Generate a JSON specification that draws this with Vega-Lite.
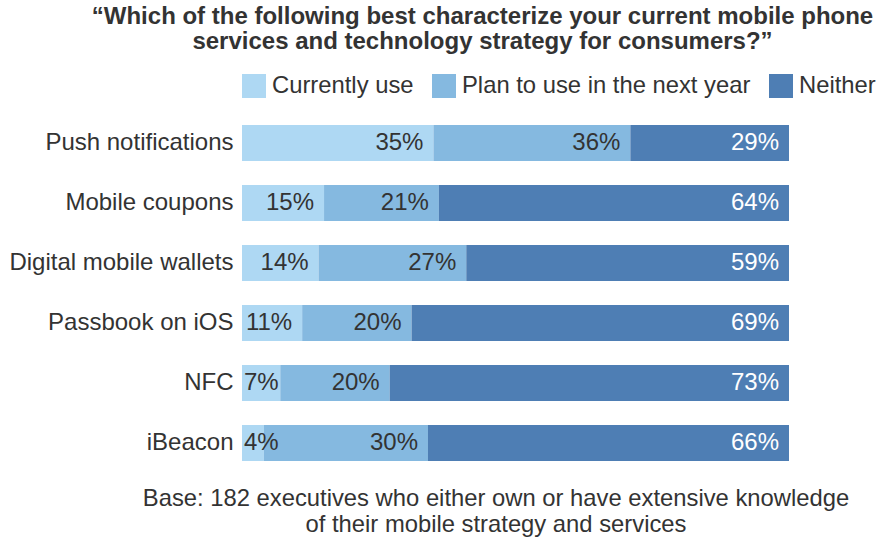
{
  "$schema": "https://vega.github.io/schema/vega-lite/v6.json",
  "width": 547,
  "height": 360,
  "autosize": "none",
  "padding": {"left": 242, "top": 113, "right": 93, "bottom": 68},
  "background": "white",
  "config": {"view": {"stroke": null}},
  "title": {
    "text": ["“Which of the following best characterize your current mobile phone", "services and technology strategy for consumers?”"],
    "font": "Liberation Sans",
    "fontSize": 24,
    "fontWeight": "bold",
    "color": "#333333",
    "lineHeight": 25.5,
    "anchor": "middle",
    "frame": "group",
    "dx": -33,
    "offset": 20
  },
  "data": {
    "values": [
      {"item": "Push notifications", "cat": "Currently use", "v": 35},
      {"item": "Push notifications", "cat": "Plan to use in the next year", "v": 36},
      {"item": "Push notifications", "cat": "Neither", "v": 29},
      {"item": "Mobile coupons", "cat": "Currently use", "v": 15},
      {"item": "Mobile coupons", "cat": "Plan to use in the next year", "v": 21},
      {"item": "Mobile coupons", "cat": "Neither", "v": 64},
      {"item": "Digital mobile wallets", "cat": "Currently use", "v": 14},
      {"item": "Digital mobile wallets", "cat": "Plan to use in the next year", "v": 27},
      {"item": "Digital mobile wallets", "cat": "Neither", "v": 59},
      {"item": "Passbook on iOS", "cat": "Currently use", "v": 11},
      {"item": "Passbook on iOS", "cat": "Plan to use in the next year", "v": 20},
      {"item": "Passbook on iOS", "cat": "Neither", "v": 69},
      {"item": "NFC", "cat": "Currently use", "v": 7},
      {"item": "NFC", "cat": "Plan to use in the next year", "v": 20},
      {"item": "NFC", "cat": "Neither", "v": 73},
      {"item": "iBeacon", "cat": "Currently use", "v": 4},
      {"item": "iBeacon", "cat": "Plan to use in the next year", "v": 30},
      {"item": "iBeacon", "cat": "Neither", "v": 66}
    ]
  },
  "transform": [
    {"calculate": "indexof(['Currently use','Plan to use in the next year','Neither'], datum.cat)", "as": "ord"},
    {"calculate": "datum.v + '%'", "as": "label"},
    {"stack": "v", "groupby": ["item"], "sort": [{"field": "ord", "order": "ascending"}], "as": ["v0", "v1"]}
  ],
  "encoding": {
    "y": {
      "field": "item",
      "type": "nominal",
      "sort": ["Push notifications", "Mobile coupons", "Digital mobile wallets", "Passbook on iOS", "NFC", "iBeacon"],
      "scale": {"paddingInner": 0.4, "paddingOuter": 0.2},
      "axis": {
        "title": null,
        "ticks": false,
        "domain": false,
        "labelFont": "Liberation Sans",
        "labelFontSize": 24,
        "labelColor": "#333333",
        "labelPadding": 9,
        "labelLimit": 400
      }
    }
  },
  "layer": [
    {
      "mark": {"type": "bar"},
      "encoding": {
        "x": {
          "field": "v0",
          "type": "quantitative",
          "scale": {"domain": [0, 100], "nice": false},
          "axis": {
            "labels": false,
            "ticks": false,
            "domain": false,
            "grid": false,
            "title": ["Base: 182 executives who either own or have extensive knowledge", "of their mobile strategy and services"],
            "titleFont": "Liberation Sans",
            "titleFontSize": 23.8,
            "titleFontWeight": "normal",
            "titleColor": "#333333",
            "titleLineHeight": 26.5,
            "titleX": 253.5,
            "titleAlign": "center",
            "titlePadding": 13
          }
        },
        "x2": {"field": "v1"},
        "color": {
          "field": "cat",
          "type": "nominal",
          "sort": ["Currently use", "Plan to use in the next year", "Neither"],
          "scale": {"domain": ["Currently use", "Plan to use in the next year", "Neither"], "range": ["#aed8f3", "#85b9e0", "#4e7eb4"]},
          "legend": {
            "title": null,
            "orient": "top",
            "direction": "horizontal",
            "symbolType": "square",
            "symbolSize": 576,
            "symbolStrokeWidth": 0,
            "symbolOpacity": 1,
            "labelFont": "Liberation Sans",
            "labelFontSize": 23.8,
            "labelColor": "#333333",
            "labelOffset": 6,
            "columnPadding": 18,
            "offset": 15,
            "labelLimit": 400
          }
        }
      }
    },
    {
      "transform": [{"filter": "datum.cat !== 'Currently use' || datum.v >= 10"}],
      "mark": {"type": "text", "align": "right", "baseline": "middle", "dx": -10, "font": "Liberation Sans", "fontSize": 24},
      "encoding": {
        "x": {"field": "v1", "type": "quantitative"},
        "text": {"field": "label"},
        "color": {
          "condition": {"test": "datum.cat === 'Neither'", "value": "white"},
          "value": "#333333"
        }
      }
    },
    {
      "transform": [{"filter": "datum.cat === 'Currently use' && datum.v < 10"}],
      "mark": {"type": "text", "align": "left", "baseline": "middle", "dx": 2, "font": "Liberation Sans", "fontSize": 24, "color": "#333333"},
      "encoding": {
        "x": {"field": "v0", "type": "quantitative"},
        "text": {"field": "label"}
      }
    }
  ]
}
